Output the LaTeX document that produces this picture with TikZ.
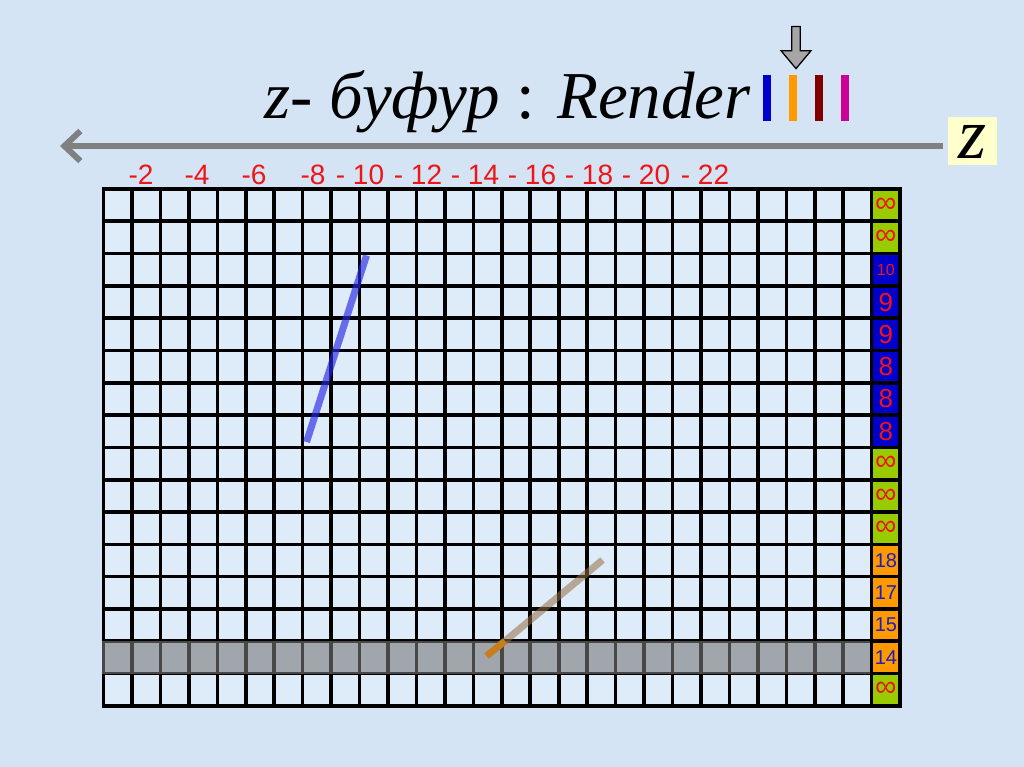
\documentclass[tikz,border=0pt]{standalone}
\usepackage{fontspec}
\setmainfont{Liberation Serif}
\newfontfamily\arial{Liberation Sans}
\usetikzlibrary{arrows.meta,shapes.arrows}
\definecolor{bgblue}{RGB}{212,228,245}
\definecolor{cellblue}{RGB}{222,235,249}
\definecolor{cgreen}{RGB}{153,204,0}
\definecolor{cblue}{RGB}{0,0,204}
\definecolor{corange}{RGB}{255,153,0}
\definecolor{numred}{RGB}{240,20,20}
\definecolor{numblue}{RGB}{30,30,190}
\definecolor{axisgray}{RGB}{128,128,128}
\definecolor{zbox}{RGB}{255,255,204}
\definecolor{bardred}{RGB}{128,0,0}
\definecolor{barmag}{RGB}{204,0,153}
\definecolor{segblue}{RGB}{40,40,230}
\definecolor{segtan}{RGB}{150,110,70}
\definecolor{segorange}{RGB}{200,125,30}
\definecolor{rowgray}{RGB}{120,120,120}
\tikzset{
  gridline/.style={line width=3.6pt, black},
  toplabel/.style={anchor=base, inner sep=0pt, text=numred, font=\arial\fontsize{28}{30}\selectfont},
  zcell/.style={inner sep=0pt, anchor=center},
}
\begin{document}
\begin{tikzpicture}[x=1pt,y=-1pt]
\useasboundingbox (0,0) rectangle (1024,767);
\fill[bgblue] (0,0) rectangle (1024,767);
% grid geometry
\def\gx{103.5}\def\gy{189}\def\cw{28.45}\def\ch{32.3}
\fill[cellblue] (\gx,\gy) rectangle (\gx+28*\cw,\gy+16*\ch);
% right column cells
\foreach \r/\c/\t/\tc/\fs in {0/cgreen/∞/numred/30, 1/cgreen/∞/numred/30, 2/cblue/10/numred/16,
  3/cblue/9/numred/26, 4/cblue/9/numred/26, 5/cblue/8/numred/26, 6/cblue/8/numred/26, 7/cblue/8/numred/26,
  8/cgreen/∞/numred/30, 9/cgreen/∞/numred/30, 10/cgreen/∞/numred/30,
  11/corange/18/numblue/20, 12/corange/17/numblue/20, 13/corange/15/numblue/20, 14/corange/14/numblue/20,
  15/cgreen/∞/numred/30}{
  \fill[\c] (\gx+27*\cw,\gy+\r*\ch) rectangle (\gx+28*\cw,\gy+\r*\ch+\ch);
  \node[zcell, text=\tc, font=\arial\fontsize{\fs}{\fs}\selectfont] (zv\r) at (\gx+27.5*\cw,\gy+\r*\ch+0.5*\ch) {\t};
}
% grid lines
\foreach \i in {0,...,28}{\draw[gridline] (\gx+\i*\cw,\gy-1.8) -- (\gx+\i*\cw,\gy+16*\ch+1.8);}
\foreach \j in {0,...,16}{\draw[gridline] (\gx-1.8,\gy+\j*\ch) -- (\gx+28*\cw+1.8,\gy+\j*\ch);}
% highlighted row
\fill[rowgray, opacity=0.6] (\gx-1.8,\gy+14*\ch) rectangle (\gx+27*\cw-1.8,\gy+15*\ch);
% segments
\coordinate (b1) at (366.5,255.5);
\coordinate (b2) at (306.5,442);
\draw[segblue, opacity=0.65, line width=7pt] (b1) -- (b2);
\coordinate (o1) at (602.5,560);
\coordinate (o2) at (505,641);
\coordinate (o3) at (486.5,656);
\draw[segtan, opacity=0.55, line width=7pt] (o1) -- (o2);
\draw[segorange, line width=7pt] (o2) -- (o3);
% top labels
\foreach \x/\t [count=\k] in {141/-2, 197/-4, 254/-6, 313/-8, 360/- 10, 418/- 12, 475/- 14, 532/- 16, 589/- 18, 646/- 20, 705/- 22}{
  \node[toplabel] (lab\k) at (\x,185) {\t};
}
% z axis
\node[fill=zbox, minimum width=49pt, minimum height=48pt, inner sep=0pt, font=\fontsize{72}{72}\selectfont\itshape] (zname) at (972.5,141.5) {z};
\coordinate (zend) at (60,146);
\draw[axisgray, line width=6pt, -{Straight Barb[length=16pt,width=30pt,line width=6pt]}] (zname.west) ++(-5,4.5) -- (zend);
% title
\node[anchor=base west, inner sep=0pt, font=\fontsize{67}{72}\selectfont\itshape] (title) at (264,119) {z- буфур {\upshape :} Render};
% colour bars
\fill[cblue] (763,75) rectangle (771,121);
\fill[corange] (789,75) rectangle (797,121);
\fill[bardred] (815,75) rectangle (823,121);
\fill[barmag] (840.5,75) rectangle (849,121);
% pointer arrow
\node[single arrow, draw=black, fill=gray!70, line width=1.3pt, rotate=-90, minimum height=42pt, minimum width=30pt, single arrow head extend=9pt, single arrow tip angle=80, inner sep=3pt] (ptr) at (796,45) {};
\end{tikzpicture}
\end{document}
